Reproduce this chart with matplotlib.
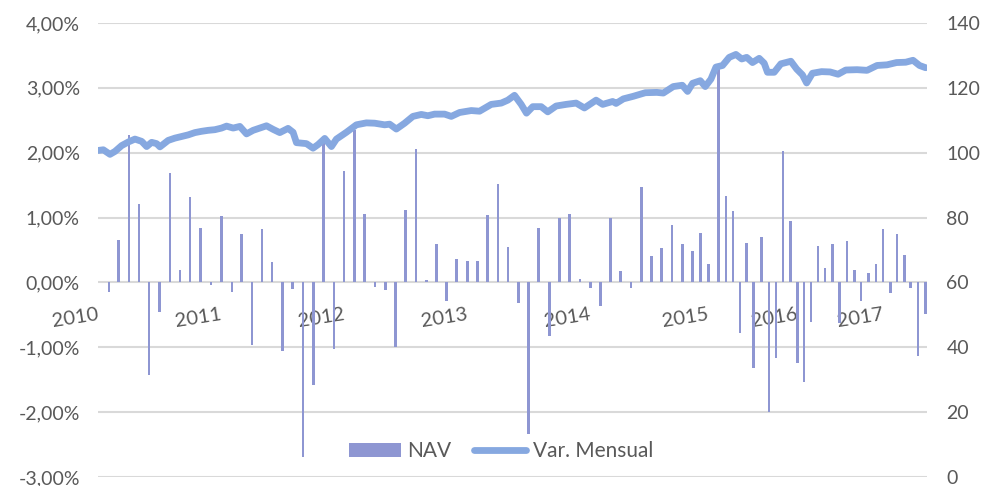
import numpy as np
import matplotlib
matplotlib.use("Agg")
import matplotlib.pyplot as plt
from matplotlib.ticker import FuncFormatter

plt.rcParams['font.family'] = ['Lato', 'DejaVu Sans']

# posición en el eje de categorías (observación diaria) y variación mensual (%)
bar_pos = [11, 20.7, 31, 41, 51, 61.3, 72, 82, 92, 102.7, 113, 123.7,
           134, 143.7, 154, 164, 174.3, 184.7, 195, 205.3, 216, 226, 236.3, 246.3,
           256.7, 267, 277.3, 287.7, 298, 308, 318.3, 328.7, 339, 349, 359, 369.7,
           380, 389.7, 400.3, 410.3, 421, 431, 441.3, 452, 462, 472, 482.7, 493,
           503.3, 513, 523.3, 533.7, 544, 554, 564.3, 574.7, 585, 595, 603, 611.3,
           621, 628.7, 635.7, 642.7, 649, 656.3, 664.3, 671.7, 679, 686, 693.3, 700.3,
           706.7, 713.7, 721, 728, 735.3, 742.7, 750, 757.3, 764, 771.7, 779, 786,
           793.3, 800, 807.7, 813.7, 821, 828.3]
var_mensual = [-0.15, 0.65, 2.27, 1.21, -1.43, -0.46, 1.69, 0.19, 1.32, 0.84, -0.04, 1.02,
               -0.15, 0.75, -0.97, 0.83, 0.31, -1.05, -0.10, -2.69, -1.58, 2.20, -1.03, 1.72,
               2.35, 1.05, -0.07, -0.12, -0.99, 1.11, 2.05, 0.04, 0.59, -0.28, 0.36, 0.33,
               0.33, 1.04, 1.51, 0.55, -0.32, -2.33, 0.84, -0.82, 0.99, 1.06, 0.05, -0.08,
               -0.37, 1.00, 0.17, -0.09, 1.47, 0.40, 0.53, 0.88, 0.59, 0.48, 0.76, 0.29,
               3.35, 1.33, 1.10, -0.78, 0.61, -1.32, 0.70, -2.00, -1.17, 2.03, 0.94, -1.24,
               -1.54, -0.61, 0.56, 0.22, 0.59, -0.63, 0.64, 0.19, -0.28, 0.14, 0.28, 0.83,
               -0.17, 0.75, 0.43, -0.09, -1.13, -0.49]

# NAV (eje secundario)
nav_pos = [0.3, 5.3, 12, 17, 23.7, 30.3, 37, 43.7, 48.7, 53.7, 58.7, 62, 70.3, 77, 83.7,
           90.3, 97, 103.7, 110.3, 117, 123.7, 128.7, 135.3, 142, 148.7, 155.3, 168.7,
           175.3, 182, 190.3, 195.3, 198.7, 208.7, 215.3, 220.3, 227, 233.7, 238.7,
           248.7, 258.7, 268.7, 277, 287, 292, 298.7, 307, 315.3, 323.7, 330.3, 337,
           347, 353.7, 362, 373.7, 382, 393.7, 403.7, 410.3, 417, 423.7, 429, 435.3,
           443.7, 450.3, 458.7, 468.7, 478.7, 487, 498.7, 505.3, 515.3, 518.7, 526,
           536, 548, 559.5, 566, 576, 585, 590.3, 595.3, 603, 608, 613.7, 618.7, 625.3,
           632, 638.7, 644.5, 649.5, 655.3, 662, 667, 670.3, 677, 683.7, 693.7, 699.5,
           705.3, 709.5, 715.3, 724.5, 733, 741, 748.7, 760, 770, 780, 790, 799.5,
           808.7, 816, 822.5, 828.7]
nav = [100.7, 100.9, 99.5, 100.4, 102.2, 103.3, 104.2, 103.5, 101.9, 103.2, 102.8, 101.8,
       103.8, 104.5, 105.0, 105.5, 106.2, 106.6, 106.9, 107.1, 107.6, 108.2, 107.6, 108.1,
       105.8, 106.9, 108.3, 107.2, 106.2, 107.5, 106.3, 103.1, 102.8, 101.4, 102.5, 104.4,
       101.9, 104.2, 106.3, 108.6, 109.2, 109.1, 108.6, 108.8, 107.3, 109.1, 111.2, 111.8,
       111.4, 111.9, 111.9, 111.2, 112.4, 113.0, 112.8, 114.9, 115.3, 116.2, 117.7, 114.9,
       112.2, 114.2, 114.2, 112.6, 114.4, 114.9, 115.3, 113.8, 116.2, 114.9, 115.8, 115.2,
       116.6, 117.4, 118.5, 118.6, 118.4, 120.4, 120.8, 118.9, 121.4, 122.2, 120.4, 122.7,
       126.4, 126.9, 129.4, 130.3, 128.9, 129.4, 127.8, 129.1, 127.6, 124.8, 124.8, 127.4,
       128.2, 125.8, 124.0, 121.5, 124.5, 125.0, 124.9, 124.2, 125.5, 125.6, 125.4, 126.9,
       127.1, 127.8, 127.9, 128.5, 126.9, 126.2]

year_pos = [0.5, 123.7, 246.3, 369.7, 493, 611.3, 700.3, 786]
year_labels = ['2010', '2011', '2012', '2013', '2014', '2015', '2016', '2017']

bar_color = '#8E96D2'
line_color = '#86A8E0'
text_color = '#595959'
grid_color = '#D9D9D9'

fig = plt.figure(figsize=(9.87, 4.86), dpi=100)
ax = fig.add_axes([0.0993, 0.0185, 0.8399, 0.9342])
ax2 = ax.twinx()

ax.bar(bar_pos, var_mensual, width=2.6, color=bar_color, label='NAV', zorder=2)
ax2.plot(nav_pos, nav, color=line_color, linewidth=4.9, solid_capstyle='round',
         solid_joinstyle='round', label='Var. Mensual', zorder=3)

ax.set_xlim(0, 830)
ax.set_ylim(-3, 4)
ax2.set_ylim(0, 140)
ax.set_yticks(np.arange(-3, 4.01, 1))
ax2.set_yticks(np.arange(0, 141, 20))
ax.yaxis.set_major_formatter(FuncFormatter(lambda v, p: f"{v:.2f}%".replace('.', ',')))

ax.grid(axis='y', color=grid_color, linewidth=1.5, zorder=0)
ax.set_axisbelow(True)
for a in (ax, ax2):
    for s in a.spines.values():
        s.set_visible(False)

# etiquetas de año junto a la línea del cero
ax.spines['bottom'].set_position(('data', 0))
ax.set_xticks(year_pos)
ax.set_xticklabels(year_labels, rotation=9, ha='right', va='center',
                   rotation_mode='anchor')
ax.tick_params(axis='x', length=0, pad=23, labelsize=14.5, labelcolor=text_color)
ax.tick_params(axis='y', length=0, pad=13, labelsize=14, labelcolor=text_color)
ax2.tick_params(axis='y', length=0, pad=14, labelsize=14, labelcolor=text_color)

h1, l1 = ax.get_legend_handles_labels()
h2, l2 = ax2.get_legend_handles_labels()
ax2.legend(h1 + h2, l1 + l2, loc='center', bbox_to_anchor=(0.486, 0.057), ncol=2,
           frameon=False, fontsize=15, labelcolor=text_color, handlelength=2.5,
           handleheight=0.7, columnspacing=1.1, handletextpad=0.3)

fig.savefig('out.png', dpi=100)
